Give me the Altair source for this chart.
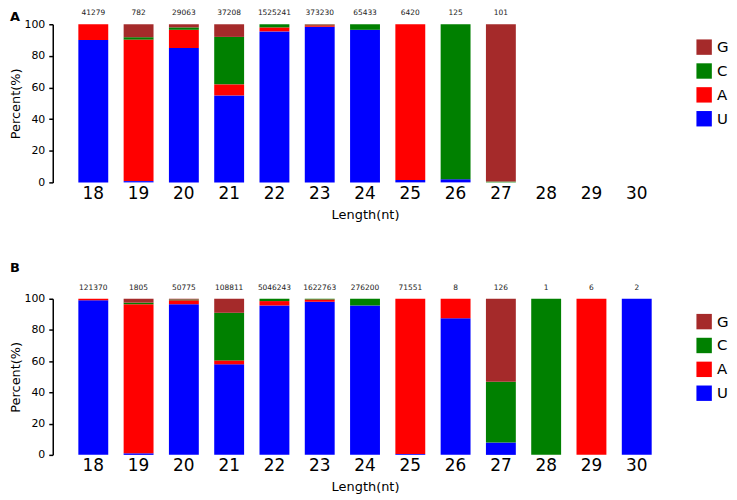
import altair as alt
import pandas as pd

lengths = [18, 19, 20, 21, 22, 23, 24, 25, 26, 27, 28, 29, 30]
bases = ["G", "C", "A", "U"]
base_colors = ["#A52A2A", "#008000", "#FF0000", "#0000FF"]

# Panel A (percent per base)
a_U = [90.0, 0.8, 85.0, 55.0, 95.5, 98.5, 96.5, 1.5, 2.0, 0.0, 0, 0, 0]
a_A = [10.0, 89.5, 11.5, 7.0, 2.5, 0.8, 0.0, 98.5, 0.0, 0.0, 0, 0, 0]
a_C = [0.0, 1.5, 1.5, 30.0, 2.0, 0.4, 3.5, 0.0, 98.0, 0.5, 0, 0, 0]
a_G = [0.0, 8.2, 2.0, 8.0, 0.0, 0.3, 0.0, 0.0, 0.0, 99.5, 0, 0, 0]
a_counts = ["41279", "782", "29063", "37208", "1525241", "373230", "65433",
            "6420", "125", "101", "", "", ""]

# Panel B (percent per base)
b_U = [99.0, 1.0, 96.5, 58.0, 95.7, 98.0, 95.7, 0.5, 87.5, 7.9, 0, 0, 100]
b_A = [1.0, 95.5, 2.5, 2.5, 2.8, 1.5, 0.0, 99.5, 12.5, 0.0, 0, 100, 0]
b_C = [0.0, 1.0, 0.5, 30.5, 1.5, 0.5, 4.3, 0.0, 0.0, 38.9, 100, 0, 0]
b_G = [0.0, 2.5, 0.5, 9.0, 0.0, 0.0, 0.0, 0.0, 0.0, 53.2, 0, 0, 0]
b_counts = ["121370", "1805", "50775", "108811", "5046243", "1622763", "276200",
            "71551", "8", "126", "1", "6", "2"]

y_ticks = [0, 20, 40, 60, 80, 100]
stack_order = {"U": 0, "A": 1, "C": 2, "G": 3}
FONT = "DejaVu Sans"


def panel(label, U, A, C, G, counts, height, title_dy):
    rows = []
    for i, L in enumerate(lengths):
        for b, vals in (("U", U), ("A", A), ("C", C), ("G", G)):
            if vals[i] > 0:
                rows.append({"len": str(L), "base": b, "pct": vals[i],
                             "ord": stack_order[b]})
    df = pd.DataFrame(rows)
    cdf = pd.DataFrame({"len": [str(l) for l in lengths], "n": counts,
                        "top": [100] * len(lengths)})
    cdf = cdf[cdf["n"] != ""]

    xscale = alt.Scale(domain=[str(l) for l in lengths],
                       paddingInner=0.34, paddingOuter=0.17)
    yscale = alt.Scale(domain=[0, 100])
    xaxis = alt.Axis(title="Length(nt)", labelAngle=0, domain=False, ticks=False,
                     labelFontSize=17, labelPadding=3, labelColor="black",
                     titleFontSize=13, titleFontWeight="normal",
                     titlePadding=7, titleColor="black")
    yaxis = alt.Axis(title="Percent(%)", values=y_ticks,
                     labelOverlap=False, grid=False,
                     domain=True, domainColor="black", domainWidth=1.5,
                     ticks=True, tickColor="black", tickWidth=1.5, tickSize=4,
                     labelFontSize=11, labelColor="black", labelPadding=4,
                     titleFontSize=13, titleFontWeight="normal",
                     titleColor="black", titlePadding=1, offset=18)
    bars = alt.Chart(df).mark_bar().encode(
        x=alt.X("len:N", scale=xscale, axis=xaxis),
        y=alt.Y("pct:Q", stack="zero", scale=yscale, axis=yaxis),
        color=alt.Color(
            "base:N",
            scale=alt.Scale(domain=bases, range=base_colors),
            legend=alt.Legend(title=None, orient="none", legendX=629, legendY=15,
                              symbolType="square", symbolSize=240,
                              symbolStrokeWidth=0, labelFontSize=15,
                              labelColor="black", rowPadding=8, labelOffset=5),
        ),
        order=alt.Order("ord:Q"),
    )
    text = alt.Chart(cdf).mark_text(dy=-11, fontSize=7.5, color="#222222").encode(
        x=alt.X("len:N", scale=xscale, axis=xaxis),
        y=alt.Y("top:Q", scale=yscale, axis=yaxis),
        text="n:N",
    )
    return alt.layer(bars, text).properties(
        width=592, height=height,
        title=alt.TitleParams(label, anchor="start", frame="bounds", fontSize=13,
                              fontWeight="bold", color="black", offset=0,
                              dy=title_dy),
    ).resolve_scale(color="independent")


pA = panel("A", a_U, a_A, a_C, a_G, a_counts, 159, 15)
pB = panel("B", b_U, b_A, b_C, b_G, b_counts, 157, -9)

chart = alt.vconcat(pA, pB, spacing=41).resolve_scale(color="independent").configure(
    font=FONT, padding={"left": 2, "top": 0, "right": 0, "bottom": 0}
).configure_view(stroke=None)

chart.save("out.html", embed_options={"renderer": "svg", "actions": False})
